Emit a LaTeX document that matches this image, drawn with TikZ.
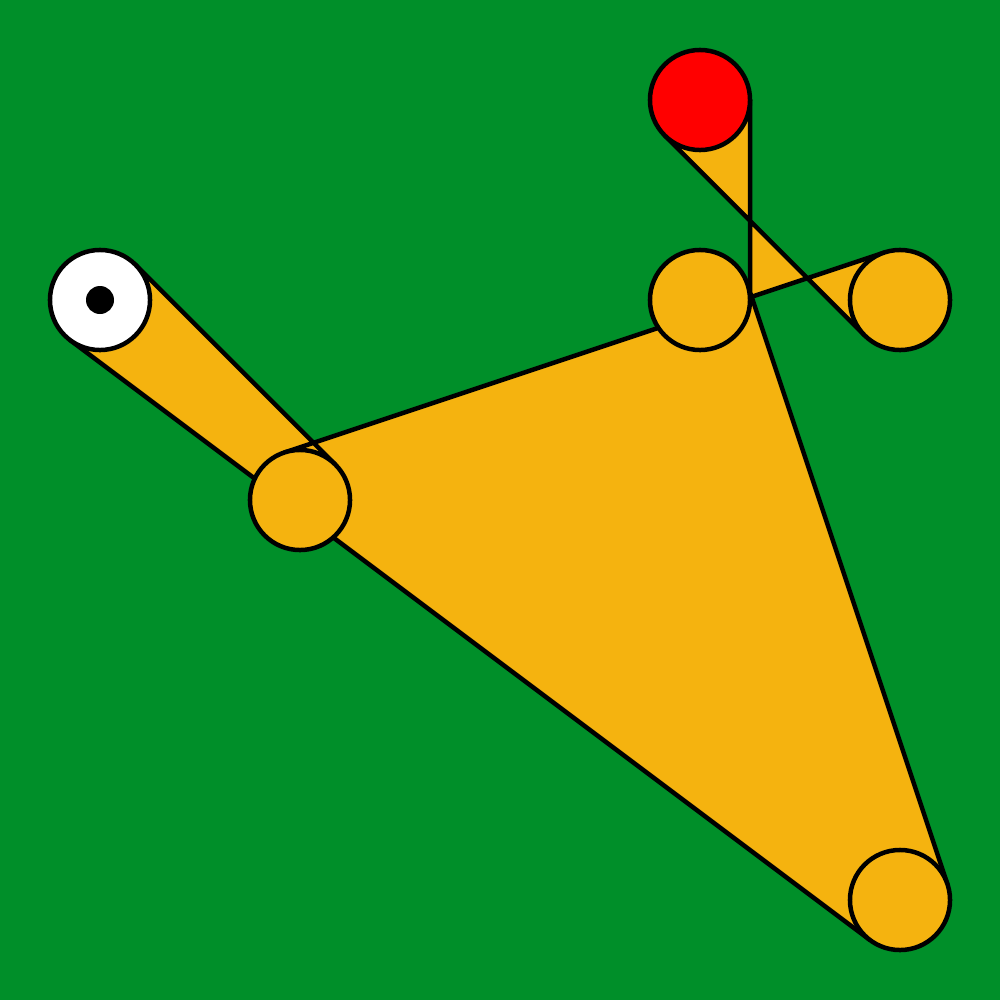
\documentclass[tikz,border=0pt]{standalone}
\usetikzlibrary{calc}
\definecolor{bggreen}{RGB}{0,143,41}
\definecolor{linkyellow}{RGB}{245,179,15}
\definecolor{pinred}{RGB}{255,0,0}
\begin{document}
\begin{tikzpicture}[x=0.01cm,y=-0.01cm,
  lw/.style={line width=0.045cm},
  joint/.style={circle,draw=black,lw,fill=linkyellow,minimum size=1cm,inner sep=0pt,outer sep=0pt},
  linkbody/.style={draw=black,lw,fill=linkyellow,line join=round}]
\fill[bggreen] (0,0) rectangle (1000,1000);
\useasboundingbox (0,0) rectangle (1000,1000);
% link outline (single self-crossing polygon of offset edges)
\path[linkbody]
  (135.36,264.64) -- (335.36,464.64) -- (284.19,452.57) -- (884.19,252.57)
  -- (864.64,335.36) -- (664.64,135.36) -- (750,100) -- (750,300)
  -- (747.43,284.19) -- (947.43,884.19) -- (870,940) -- (70,340) -- cycle;
% joints
\node[joint,fill=white] (w) at (100,300) {};
\fill[black] (w.center) circle (14);
\node[joint] (b) at (300,500) {};
\node[joint] (c) at (700,300) {};
\node[joint,fill=pinred] (r) at (700,100) {};
\node[joint] (d) at (900,300) {};
\node[joint] (e) at (900,900) {};
\end{tikzpicture}
\end{document}
